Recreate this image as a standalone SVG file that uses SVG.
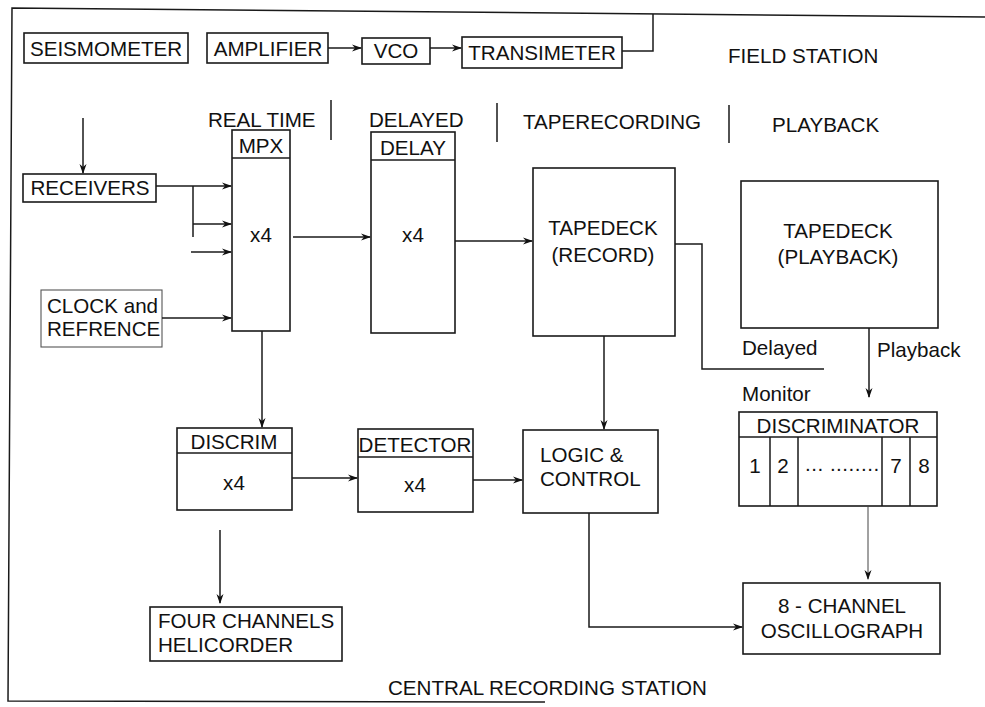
<svg xmlns="http://www.w3.org/2000/svg" width="985" height="707" viewBox="0 0 985 707">
<defs>
<marker id="ah" markerWidth="10" markerHeight="8" refX="9" refY="4" orient="auto" markerUnits="userSpaceOnUse">
<path d="M0,0.5 L10,4 L0,7.5 L3,4 z" fill="#111"/>
</marker>
</defs>
<style>
text{font-family:"Liberation Sans",Arial,sans-serif;font-size:20.6px;fill:#111}
.c{text-anchor:middle}
.b{fill:#fff;stroke:#1a1a1a;stroke-width:1.6}
.t{fill:none;stroke:#444;stroke-width:1}
.l{fill:none;stroke:#1a1a1a;stroke-width:1.5}
.a{marker-end:url(#ah)}
</style>
<rect width="985" height="707" fill="#fff"/>
<g id="frame">
<path class="l" d="M985,17 L12,8 L8,701 L545,702"/>
<path class="l" d="M331,100 V140 M497,103 V142 M729,105 V143"/>
</g>
<g id="labels">
<text x="728" y="63">FIELD STATION</text>
<text x="208" y="127">REAL TIME</text>
<text x="369" y="127">DELAYED</text>
<text x="523" y="129">TAPERECORDING</text>
<text x="772" y="132">PLAYBACK</text>
<text x="742" y="355">Delayed</text>
<text x="742" y="401">Monitor</text>
<text x="877" y="357">Playback</text>
<text x="388" y="695">CENTRAL RECORDING STATION</text>
</g>
<g id="seismometer"><rect class="b" x="24" y="33" width="164" height="30"/><text class="c" x="106" y="56">SEISMOMETER</text></g>
<g id="amplifier"><rect class="b" x="207" y="33" width="121" height="30"/><text class="c" x="268" y="56">AMPLIFIER</text></g>
<g id="vco"><rect class="b" x="362" y="38" width="68" height="26"/><text class="c" x="396" y="58">VCO</text></g>
<g id="transimeter"><rect class="b" x="462" y="37" width="160" height="31"/><text class="c" x="542" y="60">TRANSIMETER</text></g>
<g id="receivers"><rect class="b" x="23" y="174" width="133" height="28"/><text class="c" x="90" y="195">RECEIVERS</text></g>
<g id="clock"><rect class="b" x="41" y="290" width="121" height="57" style="stroke:#555;stroke-width:1.1"/><text x="47" y="313">CLOCK and</text><text x="47" y="336">REFRENCE</text></g>
<g id="mpx"><rect class="b" x="232" y="130" width="58" height="201"/><line class="l" x1="232" y1="158" x2="290" y2="158"/><text class="c" x="261" y="153">MPX</text><text class="c" x="261" y="242">x4</text></g>
<g id="delay"><rect class="b" x="371" y="132" width="84" height="201"/><line class="l" x1="371" y1="160" x2="455" y2="160"/><text class="c" x="413" y="155">DELAY</text><text class="c" x="413" y="242">x4</text></g>
<g id="tapedeck-record"><rect class="b" x="533" y="168" width="142" height="168"/><text class="c" x="603" y="235">TAPEDECK</text><text class="c" x="603" y="262">(RECORD)</text></g>
<g id="tapedeck-playback"><rect class="b" x="741" y="181" width="197" height="147"/><text class="c" x="838" y="238">TAPEDECK</text><text class="c" x="838" y="264">(PLAYBACK)</text></g>
<g id="discrim"><rect class="b" x="177" y="428" width="115" height="82"/><line class="l" x1="177" y1="453" x2="292" y2="453"/><text class="c" x="234" y="449">DISCRIM</text><text class="c" x="234" y="490">x4</text></g>
<g id="detector"><rect class="b" x="358" y="429" width="115" height="83"/><line class="l" x1="358" y1="457" x2="473" y2="457"/><text class="c" x="415" y="452">DETECTOR</text><text class="c" x="415" y="492">x4</text></g>
<g id="logic"><rect class="b" x="523" y="430" width="135" height="83"/><text x="540" y="462">LOGIC &amp;</text><text x="540" y="486">CONTROL</text></g>
<g id="discriminator"><rect class="b" x="739" y="412" width="198" height="94"/><line class="l" x1="739" y1="437" x2="937" y2="437"/><path class="l" d="M770,437 V506 M798,437 V506 M882,437 V506 M910,437 V506"/><text class="c" x="838" y="433">DISCRIMINATOR</text><text class="c" x="755" y="473">1</text><text class="c" x="783" y="473">2</text><text x="805" y="471" style="letter-spacing:0.5px">... ........</text><text class="c" x="896" y="473">7</text><text class="c" x="924" y="473">8</text></g>
<g id="helicorder"><rect class="b" x="150" y="607" width="192" height="54"/><text x="158" y="628">FOUR CHANNELS</text><text x="158" y="652">HELICORDER</text></g>
<g id="oscillograph"><rect class="b" x="743" y="583" width="197" height="71"/><text class="c" x="842" y="613">8 - CHANNEL</text><text class="c" x="842" y="638">OSCILLOGRAPH</text></g>
<g id="connectors">
<line class="l a" x1="328" y1="48" x2="361" y2="48"/>
<line class="l a" x1="430" y1="48" x2="461" y2="48"/>
<path class="l" d="M622,51 H653 V14"/>
<line class="l a" x1="83" y1="118" x2="83" y2="173"/>
<line class="l a" x1="156" y1="186" x2="231" y2="186"/>
<path class="l" d="M193,186 V237"/>
<line class="l a" x1="193" y1="224" x2="231" y2="224"/>
<line class="l a" x1="191" y1="252" x2="231" y2="252"/>
<line class="l a" x1="162" y1="318" x2="231" y2="318"/>
<line class="l a" x1="293" y1="237" x2="370" y2="237"/>
<line class="l a" x1="455" y1="241" x2="532" y2="241"/>
<path class="l" d="M675,244 H702 V369 H824"/>
<line class="l a" x1="869" y1="328" x2="869" y2="397"/>
<line class="l a" x1="262" y1="331" x2="262" y2="427"/>
<line class="l a" x1="604" y1="336" x2="604" y2="429"/>
<line class="l a" x1="292" y1="478" x2="357" y2="478"/>
<line class="l a" x1="473" y1="480" x2="522" y2="480"/>
<line class="l a" x1="220" y1="530" x2="220" y2="603"/>
<line class="t a" x1="868" y1="506" x2="868" y2="579"/>
<path class="l a" d="M589,513 V627 H742"/>
</g>
</svg>
